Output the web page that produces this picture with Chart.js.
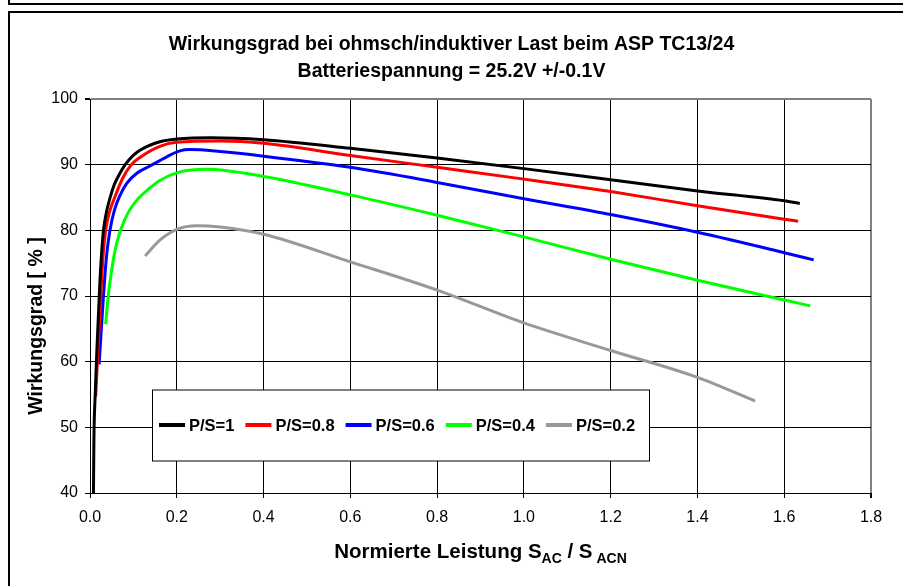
<!DOCTYPE html>
<html>
<head>
<meta charset="utf-8">
<script src="https://cdn.jsdelivr.net/npm/chart.js@4.4.1/dist/chart.umd.min.js"></script>
<style>
  html, body { margin: 0; padding: 0; background: #fff; }
  #wrap { position: relative; width: 903px; height: 586px; overflow: hidden; }
  canvas { position: absolute; left: 0; top: 0; }
  .frame { position: absolute; border: 2px solid #000; box-sizing: border-box; pointer-events: none; }
</style>
</head>
<body>
<div id="wrap">
  <canvas id="chart" width="903" height="586"></canvas>
  <div class="frame" style="left:8px;top:-20px;width:1000px;height:25px"></div>
  <div class="frame" style="left:8px;top:11px;width:1000px;height:1000px"></div>
</div>
<script>
// values
const titleLines = ['Wirkungsgrad bei ohmsch/induktiver Last beim ASP TC13/24', 'Batteriespannung = 25.2V +/-0.1V'];
const yTitle = 'Wirkungsgrad [ % ]';
const seriesLabels = ['P/S=1', 'P/S=0.8', 'P/S=0.6', 'P/S=0.4', 'P/S=0.2'];
const seriesColors = ['#000000', '#ff0000', '#0000ff', '#00ff00', '#999999'];

const ps10X = [0.008, 0.009, 0.012, 0.016, 0.023, 0.027, 0.031, 0.038, 0.046, 0.055, 0.065, 0.081, 0.098, 0.115, 0.161, 0.2, 0.28, 0.4, 0.6, 0.8, 1.0, 1.2, 1.4, 1.6, 1.636];
const ps10Y = [40, 48, 55, 62, 72.4, 76.8, 80, 82.8, 84.9, 86.8, 88.2, 90, 91.3, 92.2, 93.5, 93.9, 94.1, 93.8, 92.5, 91.0, 89.4, 87.7, 86.0, 84.5, 84.1];

const ps08X = [0.013, 0.017, 0.025, 0.030, 0.036, 0.045, 0.058, 0.075, 0.094, 0.115, 0.161, 0.2, 0.3, 0.4, 0.6, 0.8, 1.0, 1.2, 1.4, 1.6, 1.632];
const ps08Y = [54.7, 60, 70, 76, 80, 82.8, 85.2, 87.9, 89.9, 91.1, 92.8, 93.4, 93.6, 93.25, 91.4, 89.6, 87.8, 85.9, 83.75, 81.7, 81.4];

const ps06X = [0.021, 0.031, 0.038, 0.046, 0.056, 0.069, 0.085, 0.108, 0.138, 0.177, 0.207, 0.23, 0.3, 0.4, 0.6, 0.8, 1.0, 1.2, 1.4, 1.6, 1.668];
const ps06Y = [59.6, 70, 76, 80, 83, 85.3, 87.2, 88.7, 89.8, 91.2, 92.1, 92.3, 92.0, 91.3, 89.6, 87.3, 84.8, 82.4, 79.7, 76.6, 75.5];

const ps04X = [0.036, 0.042, 0.048, 0.055, 0.063, 0.072, 0.088, 0.108, 0.135, 0.161, 0.207, 0.269, 0.4, 0.6, 0.8, 1.0, 1.2, 1.4, 1.6, 1.66];
const ps04Y = [65.7, 70, 73, 76, 78.4, 80.3, 82.7, 84.6, 86.3, 87.6, 88.9, 89.3, 88.2, 85.4, 82.3, 79.0, 75.6, 72.4, 69.4, 68.5];

const ps02X = [0.127, 0.161, 0.2, 0.246, 0.3, 0.4, 0.6, 0.8, 1.0, 1.2, 1.4, 1.533];
const ps02Y = [76.1, 78.5, 80.15, 80.7, 80.5, 79.4, 75.2, 70.9, 65.9, 61.7, 57.6, 54.0];

const seriesX = [ps10X, ps08X, ps06X, ps04X, ps02X];
const seriesY = [ps10Y, ps08Y, ps06Y, ps04Y, ps02Y];

const FONT = '"Liberation Sans", Arial, sans-serif';
Chart.defaults.font.family = FONT;
Chart.defaults.color = '#000';

function points(xs, ys) {
  return xs.map((x, i) => ({ x: x, y: ys[i] }));
}

// legend box inside the plot, drawn over the grid
const legendBox = {
  id: 'legendBox',
  afterDatasetsDraw(chart) {
    const { ctx, chartArea } = chart;
    const x0 = chartArea.left + 62.5, y0 = chartArea.top + 291, w = 497, h = 71;
    ctx.save();
    ctx.fillStyle = '#fff';
    ctx.fillRect(x0, y0, w, h);
    ctx.strokeStyle = '#000';
    ctx.lineWidth = 1;
    ctx.strokeRect(x0, y0, w, h);
    ctx.font = 'bold 16.5px ' + FONT;
    ctx.textBaseline = 'middle';
    let x = x0 + 6.5;
    const y = y0 + 35;
    chart.data.datasets.forEach(ds => {
      ctx.strokeStyle = ds.borderColor;
      ctx.lineWidth = 4;
      ctx.beginPath();
      ctx.moveTo(x, y);
      ctx.lineTo(x + 26, y);
      ctx.stroke();
      ctx.fillStyle = '#000';
      ctx.fillText(ds.label, x + 30, y + 1);
      x += 30 + ctx.measureText(ds.label).width + 11;
    });
    ctx.restore();
  }
};

// axis titles (x title needs subscripts)
const axisTitles = {
  id: 'axisTitles',
  afterDraw(chart) {
    const { ctx, chartArea } = chart;
    const big = 'bold 20.5px ' + FONT, small = 'bold 14px ' + FONT;
    const parts = [['Normierte Leistung S', false], ['AC', true], [' / S', false], [' ACN', true]];
    ctx.save();
    ctx.fillStyle = '#000';
    ctx.textBaseline = 'alphabetic';
    let total = 0;
    parts.forEach(p => { ctx.font = p[1] ? small : big; total += ctx.measureText(p[0]).width; });
    let x = (chartArea.left + chartArea.right) / 2 - total / 2;
    const base = 558;
    parts.forEach(p => {
      ctx.font = p[1] ? small : big;
      ctx.fillText(p[0], x, p[1] ? base + 5 : base);
      x += ctx.measureText(p[0]).width;
    });
    ctx.translate(37, 326);
    ctx.rotate(-Math.PI / 2);
    ctx.font = 'bold 19.5px ' + FONT;
    ctx.textAlign = 'center';
    ctx.textBaseline = 'middle';
    ctx.fillText(yTitle, 0, 0);
    ctx.restore();
  }
};

new Chart(document.getElementById('chart'), {
  type: 'line',
  data: {
    datasets: seriesLabels.map((label, i) => ({
      label: label,
      data: points(seriesX[i], seriesY[i]),
      borderColor: seriesColors[i],
      backgroundColor: seriesColors[i],
      borderWidth: 3,
      pointRadius: 0,
      fill: false,
      cubicInterpolationMode: 'monotone'
    }))
  },
  options: {
    responsive: false,
    animation: false,
    devicePixelRatio: 1,
    layout: { padding: 0 },
    plugins: {
      legend: { display: false },
      tooltip: { enabled: false },
      title: {
        display: true,
        text: titleLines,
        color: '#000',
        font: { size: 19.5, weight: 'bold', lineHeight: 1.385 },
        padding: { top: 31.5, bottom: 13.5 }
      }
    },
    scales: {
      x: {
        type: 'linear',
        min: 0,
        max: 1.8,
        ticks: {
          stepSize: 0.2,
          padding: 10,
          font: { size: 16 },
          color: '#000',
          maxRotation: 0,
          callback: v => v.toFixed(1)
        },
        grid: {
          color: c => (c.tick && c.tick.value > 1.79) ? '#808080' : '#000',
          lineWidth: c => (c.tick && c.tick.value > 1.79) ? 2 : 1,
          tickLength: 5,
          tickColor: '#000'
        },
        border: { color: '#000', width: 1 },
        afterFit(s) { s.height = 93; s.paddingRight = 32; }
      },
      y: {
        min: 40,
        max: 100,
        ticks: { stepSize: 10, padding: 7, font: { size: 16 }, color: '#000' },
        grid: {
          color: c => (c.tick && c.tick.value === 100) ? '#808080' : '#000',
          lineWidth: c => (c.tick && c.tick.value === 100) ? 2 : 1,
          tickLength: 5,
          tickColor: '#000'
        },
        border: { color: '#000', width: 1 },
        afterFit(s) { s.width = 90; }
      }
    }
  },
  plugins: [legendBox, axisTitles]
});
</script>
</body>
</html>
